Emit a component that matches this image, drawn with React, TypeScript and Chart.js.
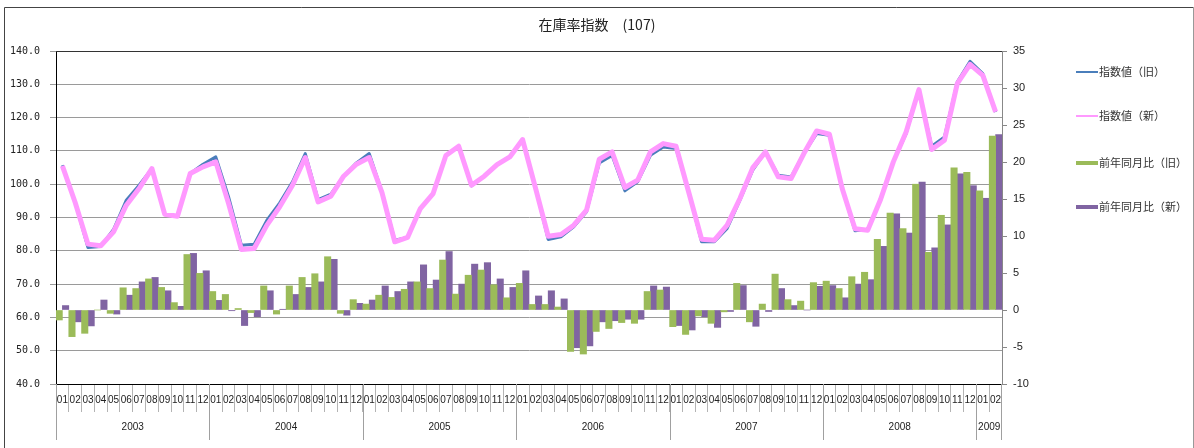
import React, { useEffect, useRef } from 'react';
import { Chart, registerables } from 'chart.js';

Chart.register(...registerables);

const TITLE = '在庫率指数　(107)';
const YEARS = ['2003', '2004', '2005', '2006', '2007', '2008', '2009'];
const MONTHS_PER_YEAR = [12, 12, 12, 12, 12, 12, 2];
const MONTH_NAMES = ['01', '02', '03', '04', '05', '06', '07', '08', '09', '10', '11', '12'];
const CATEGORIES: string[] = [];
YEARS.forEach((y, yi) => {
  for (let m = 0; m < MONTHS_PER_YEAR[yi]; m++) CATEGORIES.push(MONTH_NAMES[m]);
});

const SERIES_NAMES = ['指数値（旧）', '指数値（新）', '前年同月比（旧）', '前年同月比（新）'];

const INDEX_OLD = [
  105.7, 94.5, 81.0, 81.3, 86.4, 95.2, 99.7, 104.7, 91.0, 90.5, 103.2, 106.0,
  108.2, 96.2, 81.7, 82.0, 89.2, 94.4, 100.7, 109.2, 95.4, 97.0, 102.4, 106.4,
  109.2, 97.7, 83.2, 84.0, 92.7, 97.2, 108.6, 111.4, 99.5, 102.4, 106.0, 108.3,
  113.4, 99.0, 83.4, 84.2, 87.2, 91.7, 106.4, 108.6, 98.0, 100.7, 108.7, 111.2,
  110.7, 97.5, 82.7, 82.7, 86.7, 95.2, 104.2, 109.7, 102.7, 102.2, 109.2, 115.2,
  114.7, 98.7, 86.0, 86.4, 95.2, 106.7, 115.2, 128.4, 111.4, 114.2, 130.7, 136.9,
  133.2, 121.7,
];
const INDEX_NEW = [
  105.5, 94.5, 82.0, 81.5, 85.7, 93.7, 98.7, 104.7, 91.0, 90.4, 103.2, 105.2,
  106.7, 94.2, 80.4, 80.7, 87.7, 93.2, 99.7, 108.0, 94.7, 96.4, 102.4, 106.0,
  108.0, 97.5, 82.7, 84.0, 92.7, 97.2, 108.6, 111.4, 99.7, 102.4, 105.9, 108.2,
  113.4, 99.0, 84.4, 84.9, 87.7, 92.2, 107.5, 109.7, 99.0, 101.2, 109.7, 112.2,
  111.4, 97.5, 83.5, 83.2, 87.7, 95.7, 104.9, 109.7, 102.2, 101.7, 109.2, 116.0,
  115.0, 98.7, 86.6, 86.2, 95.4, 106.7, 115.7, 128.4, 110.4, 113.2, 130.2, 136.0,
  132.7, 121.7,
];
const YOY_OLD = [
  -1.35, -3.6, -3.15, 0, -0.45, 3.0, 2.9, 4.2, 3.05, 1.0, 7.5, 4.95,
  2.5, 2.1, 0.2, -0.35, 3.25, -0.55, 3.25, 4.4, 4.9, 7.2, -0.45, 1.4,
  0.8, 2.0, 1.7, 2.8, 3.8, 2.9, 6.75, 2.15, 4.7, 5.4, 3.4, 1.65,
  3.6, 0.75, 0.75, 0.4, -5.6, -5.95, -2.9, -2.5, -1.7, -1.8, 2.5, 2.7,
  -2.25, -3.3, -0.8, -1.8, -0.25, 3.6, -1.6, 0.8, 4.85, 1.4, 1.2, 3.7,
  3.9, 2.9, 4.5, 5.1, 9.55, 13.1, 11.0, 17.0, 7.8, 12.8, 19.2, 18.6,
  16.1, 23.5,
];
const YOY_NEW = [
  0.6, -1.6, -2.15, 1.35, -0.55, 2.0, 3.8, 4.4, 2.6, 0.5, 7.65, 5.3,
  1.3, -0.1, -2.1, -0.9, 2.6, 0.1, 2.1, 3.05, 3.8, 6.85, -0.7, 0.9,
  1.35, 3.25, 2.5, 3.8, 6.1, 4.05, 7.9, 3.5, 6.2, 6.4, 4.2, 3.05,
  5.3, 1.9, 2.6, 1.5, -5.1, -4.85, -1.6, -1.45, -1.25, -1.25, 3.25, 3.1,
  -2.1, -2.7, -0.9, -2.35, -0.2, 3.3, -2.2, -0.2, 2.9, 0.6, 0, 3.2,
  3.3, 1.65, 3.5, 4.1, 8.6, 13.0, 10.4, 17.3, 8.4, 11.5, 18.4, 16.8,
  15.1, 23.7,
];

const COLORS = ['#4A7EBB', '#FF99FF', '#9BBB59', '#8064A2'];
const CJK = '"Noto Sans CJK JP", "Noto Sans", sans-serif';

const decorPlugin = {
  id: 'decor',
  beforeDraw(chart: any) {
    const { ctx, width, height } = chart;
    ctx.save();
    ctx.fillStyle = '#ffffff';
    ctx.fillRect(0, 0, width, height);
    ctx.strokeStyle = '#444';
    ctx.lineWidth = 1;
    ctx.beginPath();
    ctx.moveTo(4.5, height + 5);
    ctx.lineTo(4.5, 7.5);
    ctx.lineTo(width - 0.5, 7.5);
    ctx.stroke();
    ctx.strokeStyle = '#999';
    ctx.beginPath();
    ctx.moveTo(width - 0.5, 7.5);
    ctx.lineTo(width - 0.5, height + 5);
    ctx.stroke();
    ctx.restore();
  },
  afterDraw(chart: any) {
    const { ctx, chartArea } = chart;
    const x = chart.scales.x;
    ctx.save();
    ctx.strokeStyle = '#333';
    ctx.lineWidth = 1;
    ctx.beginPath();
    ctx.moveTo(chartArea.left, Math.round(chartArea.top) + 0.5);
    ctx.lineTo(chartArea.right, Math.round(chartArea.top) + 0.5);
    ctx.stroke();
    const n = CATEGORIES.length;
    const step = (x.right - x.left) / n;
    let idx = 0;
    ctx.strokeStyle = '#a0a0a0';
    ctx.fillStyle = '#222';
    ctx.font = '10px "Liberation Sans", Arial, sans-serif';
    ctx.textAlign = 'center';
    ctx.textBaseline = 'middle';
    const bottom = chartArea.bottom;
    YEARS.forEach((yr, yi) => {
      const x0 = x.left + idx * step;
      const x1 = x.left + (idx + MONTHS_PER_YEAR[yi]) * step;
      ctx.beginPath();
      ctx.moveTo(Math.round(x0) + 0.5, bottom);
      ctx.lineTo(Math.round(x0) + 0.5, bottom + 56);
      ctx.stroke();
      ctx.fillText(yr, (x0 + x1) / 2, bottom + 43);
      idx += MONTHS_PER_YEAR[yi];
    });
    const xe = x.left + n * step;
    ctx.beginPath();
    ctx.moveTo(Math.round(xe) - 0.5, bottom);
    ctx.lineTo(Math.round(xe) - 0.5, bottom + 56);
    ctx.stroke();
    ctx.fillStyle = '#222';
    ctx.font = '14px ' + CJK;
    ctx.textAlign = 'center';
    ctx.fillText(TITLE, 597, 25);
    const ys = [72, 116, 163, 207];
    const widths = [2, 2, 4, 4];
    ctx.font = '11px ' + CJK;
    ctx.textAlign = 'left';
    SERIES_NAMES.forEach((name, i) => {
      ctx.strokeStyle = COLORS[i];
      ctx.lineWidth = widths[i];
      ctx.beginPath();
      ctx.moveTo(1076, ys[i]);
      ctx.lineTo(1098, ys[i]);
      ctx.stroke();
      ctx.fillStyle = '#333';
      ctx.fillText(name, 1099, ys[i]);
    });
    ctx.restore();
  },
};

export default function App() {
  const ref = useRef<HTMLCanvasElement>(null);
  useEffect(() => {
    document.body.style.margin = '0';
    const chart = new Chart(ref.current as HTMLCanvasElement, {
      type: 'bar',
      data: {
        labels: CATEGORIES,
        datasets: [
          {
            type: 'line', label: SERIES_NAMES[0], data: INDEX_OLD, yAxisID: 'y',
            borderColor: COLORS[0], backgroundColor: COLORS[0], borderWidth: 3,
            pointRadius: 0, tension: 0, borderJoinStyle: 'round', order: 1,
          } as any,
          {
            type: 'line', label: SERIES_NAMES[1], data: INDEX_NEW, yAxisID: 'y',
            borderColor: COLORS[1], backgroundColor: COLORS[1], borderWidth: 5,
            pointRadius: 0, tension: 0, borderJoinStyle: 'round', order: 0,
          } as any,
          {
            type: 'bar', label: SERIES_NAMES[2], data: YOY_OLD, yAxisID: 'y1',
            backgroundColor: COLORS[2], barPercentage: 1, categoryPercentage: 1, order: 2,
          } as any,
          {
            type: 'bar', label: SERIES_NAMES[3], data: YOY_NEW, yAxisID: 'y1',
            backgroundColor: COLORS[3], barPercentage: 1, categoryPercentage: 1, order: 2,
          } as any,
        ],
      },
      options: {
        animation: false,
        responsive: true,
        maintainAspectRatio: false,
        layout: { padding: { left: 0, top: 51, right: 152, bottom: 0 } },
        plugins: { legend: { display: false }, title: { display: false }, tooltip: { enabled: false } },
        scales: {
          x: {
            type: 'category',
            offset: true,
            grid: { offset: true, drawOnChartArea: false, drawTicks: true, tickLength: 28, color: '#b4b4b4' },
            border: { color: '#000', width: 1 },
            ticks: {
              autoSkip: false, maxRotation: 0, minRotation: 0, padding: -18,
              font: { family: '"Liberation Sans", Arial, sans-serif', size: 10 }, color: '#222',
            },
            afterFit: (s: any) => { s.height = 64; },
          },
          y: {
            position: 'left', min: 40, max: 140,
            ticks: {
              stepSize: 10, padding: 10, callback: (v: any) => Number(v).toFixed(1),
              font: { family: '"DejaVu Sans Mono", monospace', size: 10 }, color: '#222',
            },
            grid: { color: '#9a9a9a', tickLength: 6 },
            border: { color: '#000', width: 1 },
            afterFit: (s: any) => { s.width = 56; },
          },
          y1: {
            position: 'right', min: -10, max: 35,
            ticks: {
              stepSize: 5, padding: 6,
              font: { family: '"Liberation Sans", Arial, sans-serif', size: 11 }, color: '#222',
            },
            grid: { drawOnChartArea: false, tickLength: 5, color: '#888' },
            border: { color: '#888', width: 1 },
            afterFit: (s: any) => { s.width = 40; },
          },
        },
      } as any,
      plugins: [decorPlugin],
    });
    return () => chart.destroy();
  }, []);
  return (
    <div style={{ position: 'fixed', left: 0, top: 0, width: 1194, height: 448 }}>
      <canvas ref={ref} />
    </div>
  );
}
